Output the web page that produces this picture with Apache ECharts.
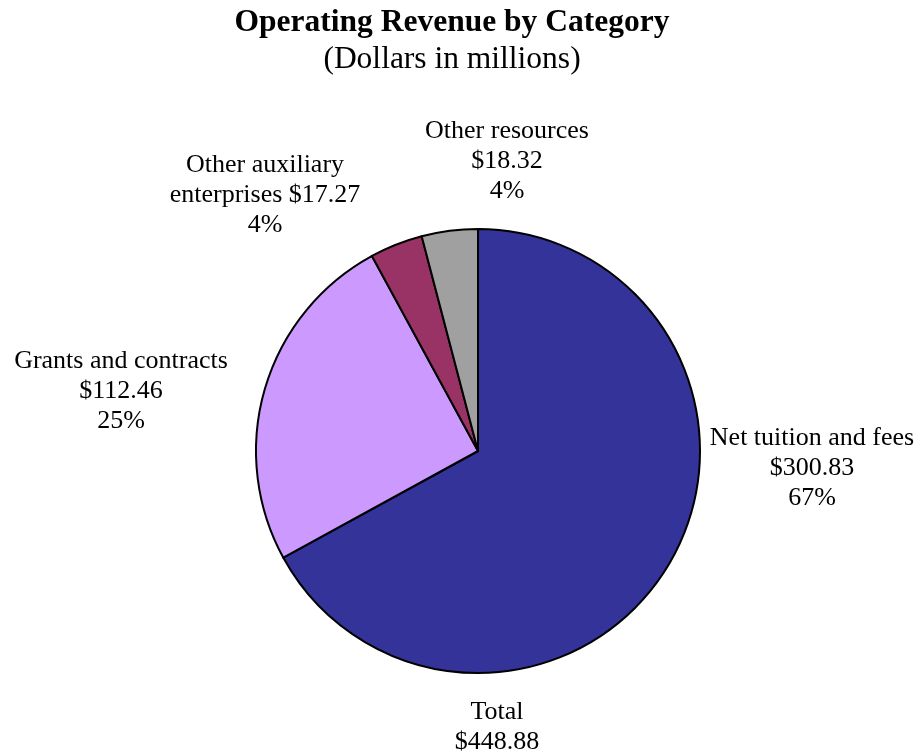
<!DOCTYPE html>
<html>
<head>
<meta charset="utf-8">
<style>
  html, body { margin: 0; padding: 0; background: #fff; }
  #chart { width: 922px; height: 755px; }
</style>
<script src="https://cdn.jsdelivr.net/npm/echarts@6/dist/echarts.min.js"></script>
</head>
<body>
<div id="chart"></div>
<script>
// data
const categories = ['Net tuition and fees', 'Grants and contracts', 'Other auxiliary enterprises', 'Other resources'];
const labelNames = ['Net tuition and fees', 'Grants and contracts', 'Other auxiliary\nenterprises', 'Other resources'];
const labelJoin = ['\n', '\n', ' ', '\n'];
const revenue = [300.83, 112.46, 17.27, 18.32];
const colors = ['#333399', '#CC99FF', '#993366', '#A0A0A0'];

const total = revenue.reduce((a, b) => a + b, 0);

const font = '"Liberation Serif", "Times New Roman", serif';
// where each label block sits (centre of the text block)
const labelPos = [[812, 468], [121, 391], [265, 195], [507, 161]];

const myChart = echarts.init(document.getElementById('chart'));
const option = {
    backgroundColor: '#fff',
    animation: false,
    title: [
        {
            text: 'Operating Revenue by Category',
            subtext: '(Dollars in millions)',
            left: 447,
            top: 1,
            textAlign: 'center',
            itemGap: 4,
            textStyle: { fontFamily: font, fontSize: 31.5, fontWeight: 'bold', color: '#000', lineHeight: 33 },
            subtextStyle: { fontFamily: font, fontSize: 31.5, color: '#000', lineHeight: 33 },
        },
        {
            text: 'Total\n$' + total.toFixed(2),
            left: 492,
            top: 692,
            textAlign: 'center',
            textStyle: { fontFamily: font, fontSize: 26, fontWeight: 'normal', color: '#000', lineHeight: 30 },
        },
    ],
    series: [
        {
            type: 'pie',
            center: [478, 451],
            radius: 222,
            startAngle: 90,
            clockwise: true,
            silent: true,
            data: categories.map((name, i) => ({
                name: name,
                value: revenue[i],
                itemStyle: { color: colors[i] },
            })),
            itemStyle: { borderColor: '#000', borderWidth: 2 },
            label: {
                show: true,
                position: 'outside',
                alignTo: 'none',
                overflow: 'none',
                fontFamily: font,
                fontSize: 26,
                lineHeight: 30,
                color: '#000',
                align: 'center',
                formatter: (p) => labelNames[p.dataIndex] + labelJoin[p.dataIndex] + '$' + p.value.toFixed(2) + '\n' + Math.round(p.percent) + '%',
            },
            labelLine: { show: false },
            labelLayout: (params) => ({
                x: labelPos[params.dataIndex][0],
                y: labelPos[params.dataIndex][1],
                align: 'center',
                verticalAlign: 'middle',
            }),
        },
    ],
};
myChart.setOption(option);
window.addEventListener('resize', () => {
    myChart.resize();
});
</script>
</body>
</html>
